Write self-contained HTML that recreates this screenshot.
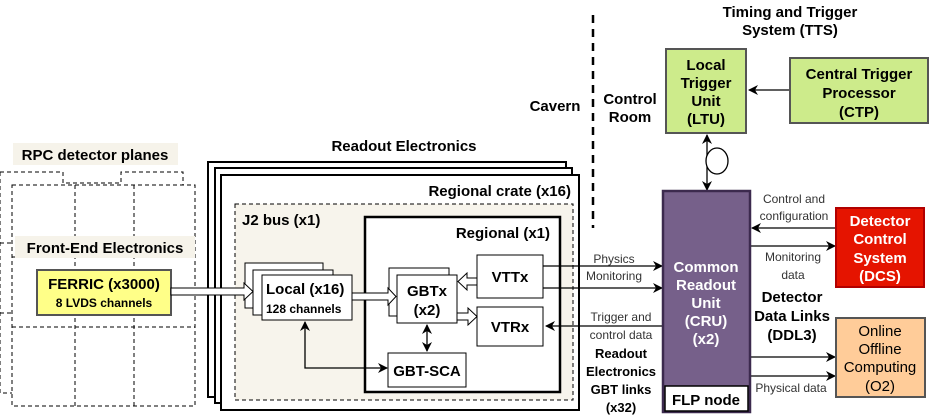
<!DOCTYPE html>
<html><head><meta charset="utf-8"><style>body{margin:0;background:#fff}svg{display:block}text{font-family:"Liberation Sans",sans-serif}</style></head><body>
<svg width="930" height="420" viewBox="0 0 930 420" xmlns="http://www.w3.org/2000/svg">
<defs>
<marker id="a" markerWidth="10" markerHeight="10" refX="9" refY="5" orient="auto" markerUnits="userSpaceOnUse"><path d="M0,0 L10,5 L0,10 L3,5 Z" fill="#000"/></marker>
<marker id="as" markerWidth="10" markerHeight="10" refX="1" refY="5" orient="auto" markerUnits="userSpaceOnUse"><path d="M10,0 L0,5 L10,10 L7,5 Z" fill="#000"/></marker>
</defs>
<!-- RPC planes -->
<g fill="none" stroke="#000" stroke-dasharray="4,3" stroke-width="1">
<path d="M0,172 H63 V183 H121 V172 H183 V185"/>
<path d="M0,172 V393 H12"/>
<path d="M0,243 H12 M0,313 H12"/>
<rect x="12" y="185" width="183" height="221"/>
<path d="M75,185 V406 M134,185 V406 M12,327 H195 M12,257 H195"/>
</g>
<rect x="13" y="143" width="165" height="22" fill="#f6f3ea"/>
<text x="95" y="160" font-size="15" font-weight="bold" text-anchor="middle">RPC detector planes</text>
<rect x="15" y="236" width="180" height="22" fill="#f6f3ea"/>
<text x="105" y="253" font-size="15" font-weight="bold" text-anchor="middle">Front-End Electronics</text>
<rect x="37" y="270" width="134" height="45" fill="#ffff88" stroke="#555" stroke-width="2"/>
<text x="104" y="289" font-size="15" font-weight="bold" text-anchor="middle">FERRIC (x3000)</text>
<text x="104" y="307" font-size="12" font-weight="bold" text-anchor="middle">8 LVDS channels</text>
<!-- Readout stack -->
<text x="404" y="151" font-size="15" font-weight="bold" text-anchor="middle">Readout Electronics</text>
<rect x="208" y="162" width="358" height="235" fill="#fff" stroke="#000" stroke-width="2"/>
<rect x="215" y="168" width="357" height="235" fill="#fff" stroke="#000" stroke-width="2"/>
<rect x="221" y="175" width="358" height="235" fill="#fff" stroke="#000" stroke-width="2"/>
<text x="571" y="196" font-size="15" font-weight="bold" text-anchor="end">Regional  crate (x16)</text>
<rect x="235" y="204" width="338" height="196" fill="#f7f4ec" stroke="#000" stroke-dasharray="4,3"/>
<text x="242" y="225" font-size="15" font-weight="bold">J2 bus (x1)</text>
<rect x="365" y="217" width="195" height="175" fill="#fff" stroke="#000" stroke-width="2.5"/>
<text x="550" y="238" font-size="15" font-weight="bold" text-anchor="end">Regional (x1)</text>
<!-- Local stack -->
<rect x="245" y="263" width="78" height="45" fill="#fff" stroke="#000"/>
<rect x="253" y="270" width="80" height="45" fill="#fff" stroke="#000"/>
<rect x="262" y="275" width="90" height="45" fill="#fff" stroke="#000"/>
<text x="266" y="294" font-size="15" font-weight="bold">Local (x16)</text>
<text x="266" y="313" font-size="12" font-weight="bold">128 channels</text>
<!-- GBTx -->
<rect x="389" y="268" width="60" height="48" fill="#fff" stroke="#000"/>
<rect x="397" y="275" width="60" height="48" fill="#fff" stroke="#000"/>
<text x="427" y="296" font-size="15" font-weight="bold" text-anchor="middle">GBTx</text>
<text x="427" y="315" font-size="15" font-weight="bold" text-anchor="middle">(x2)</text>
<rect x="477" y="255" width="66" height="43" fill="#fff" stroke="#000"/>
<text x="510" y="282" font-size="15" font-weight="bold" text-anchor="middle">VTTx</text>
<rect x="477" y="307" width="66" height="39" fill="#fff" stroke="#000"/>
<text x="510" y="332" font-size="15" font-weight="bold" text-anchor="middle">VTRx</text>
<rect x="388" y="353" width="78" height="34" fill="#fff" stroke="#000"/>
<text x="427" y="376" font-size="15" font-weight="bold" text-anchor="middle">GBT-SCA</text>
<!-- hollow arrows -->
<g fill="#fff" stroke="#000">
<path d="M171,288 H244 V283 L253,291.5 L244,300 V295 H171 Z"/>
<path d="M352,293 H388 V288 L396,296.5 L388,305 V300 H352 Z"/>
<path d="M477,278 H467 V273 L458,281.5 L467,290 V285 H477 Z"/>
<path d="M457,313 H468 V308 L477,316.5 L468,325 V320 H457 Z"/>
</g>
<g stroke="#000" stroke-width="1.3" fill="none">
<path d="M427,325 V351" marker-start="url(#as)" marker-end="url(#a)"/>
<path d="M305,322 V368 H387" marker-start="url(#as)" marker-end="url(#a)"/>
<path d="M543,266 H662" marker-end="url(#a)"/>
<path d="M543,288 H662" marker-end="url(#a)"/>
<path d="M665,326 H546" marker-end="url(#a)"/>
<path d="M790,90 H749" marker-end="url(#a)"/>
<path d="M707,135 V190" marker-start="url(#as)" marker-end="url(#a)"/>
<path d="M836,228 H752" marker-end="url(#a)"/>
<path d="M750,246 H835" marker-end="url(#a)"/>
<path d="M750,357 H835" marker-end="url(#a)"/>
<path d="M750,376 H835" marker-end="url(#a)"/>
</g>
<ellipse cx="717" cy="161" rx="11" ry="13" fill="#fff" stroke="#000" stroke-width="1.3"/>
<path d="M593,15 V228" stroke="#000" stroke-width="2.5" stroke-dasharray="8,6"/>
<g font-size="12" fill="#333" text-anchor="middle">
<text x="614" y="263">Physics</text>
<text x="614" y="280">Monitoring</text>
<text x="621" y="321">Trigger and</text>
<text x="621" y="339">control data</text>
<text x="794" y="203">Control and</text>
<text x="794" y="220">configuration</text>
<text x="793" y="261">Monitoring</text>
<text x="793" y="279">data</text>
<text x="791" y="392">Physical data</text>
</g>
<g font-size="13" font-weight="bold" text-anchor="middle">
<text x="621" y="358">Readout</text>
<text x="621" y="376">Electronics</text>
<text x="621" y="394">GBT links</text>
<text x="621" y="412">(x32)</text>
</g>
<g font-size="15" font-weight="bold" text-anchor="middle">
<text x="792" y="302">Detector</text>
<text x="792" y="321">Data Links</text>
<text x="792" y="340">(DDL3)</text>
<text x="790" y="17">Timing and Trigger</text>
<text x="790" y="35">System (TTS)</text>
<text x="555" y="111">Cavern</text>
<text x="630" y="104">Control</text>
<text x="630" y="122">Room</text>
</g>
<!-- CRU -->
<rect x="663" y="191" width="87" height="221" fill="#76608a" stroke="#3c2a4e" stroke-width="2.5"/>
<rect x="665" y="386" width="83" height="25" fill="#fff" stroke="#000" stroke-width="1.5"/>
<text x="706" y="405" font-size="15" font-weight="bold" text-anchor="middle">FLP node</text>
<g font-size="15" font-weight="bold" fill="#fff" text-anchor="middle">
<text x="706" y="272">Common</text>
<text x="706" y="290">Readout</text>
<text x="706" y="308">Unit</text>
<text x="706" y="326">(CRU)</text>
<text x="706" y="344">(x2)</text>
</g>
<!-- LTU/CTP -->
<rect x="666" y="49" width="80" height="84" fill="#cdeb8b" stroke="#555" stroke-width="2"/>
<g font-size="15" font-weight="bold" text-anchor="middle">
<text x="706" y="70">Local</text><text x="706" y="88">Trigger</text><text x="706" y="106">Unit</text><text x="706" y="124">(LTU)</text>
</g>
<rect x="790" y="58" width="138" height="65" fill="#cdeb8b" stroke="#555" stroke-width="2"/>
<g font-size="15" font-weight="bold" text-anchor="middle">
<text x="859" y="79">Central Trigger</text><text x="859" y="98">Processor</text><text x="859" y="117">(CTP)</text>
</g>
<rect x="836" y="208" width="88" height="79" fill="#e51400" stroke="#b20000" stroke-width="2"/>
<g font-size="15" font-weight="bold" fill="#fff" text-anchor="middle">
<text x="880" y="226">Detector</text><text x="880" y="244">Control</text><text x="880" y="263">System</text><text x="880" y="281">(DCS)</text>
</g>
<rect x="836" y="318" width="89" height="79" fill="#ffcc99" stroke="#555" stroke-width="2"/>
<g font-size="15" text-anchor="middle">
<text x="880" y="336">Online</text><text x="880" y="354">Offline</text><text x="880" y="372">Computing</text><text x="880" y="391">(O2)</text>
</g>
</svg>
</body></html>
